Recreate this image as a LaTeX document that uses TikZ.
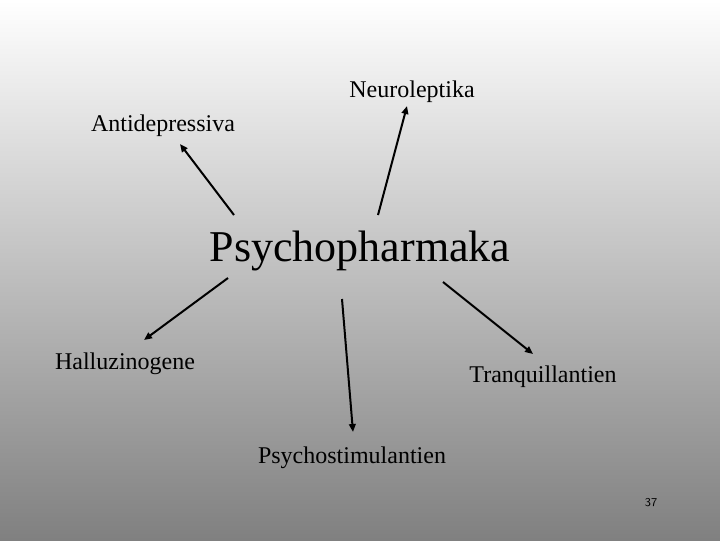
\documentclass[tikz,border=0pt]{standalone}
\usepackage{fontspec}
\setmainfont{Liberation Serif}
\usepackage{tikz}
\usetikzlibrary{arrows.meta}

\tikzset{
    lbl/.style={inner sep=0.75pt, font=\fontsize{18}{22}\selectfont},
    arr/.style={line width=1.5pt, -{Triangle[length=6pt,width=5pt]}}
}

\begin{document}
\begin{tikzpicture}[x=0.75pt,y=0.75pt,yscale=-1,xscale=1]

    % background
    \shade [top color=white, bottom color={rgb,255:red,128;green,128;blue,128}] (0,0) rectangle (720,540);
    \useasboundingbox (0,0) rectangle (720,540);

    % labels
    \node [inner sep=0.75pt, font=\fontsize{33}{38}\selectfont] (psy) at (360,251) {Psychopharmaka};
    \node [lbl] (neuro) at (412,92) {Neuroleptika};
    \node [lbl] (anti) at (163,126) {Antidepressiva};
    \node [lbl] (hallu) at (125,364) {Halluzinogene};
    \node [lbl] (tranq) at (543,377) {Tranquillantien};
    \node [lbl] (stim) at (352,458) {Psychostimulantien};
    \node [inner sep=0.75pt, font=\sffamily\fontsize{9}{11}\selectfont] (page) at (651,503) {37};

    % arrow ends
    \coordinate (a0) at (234,215);  \coordinate (a1) at (180,144);
    \coordinate (n0) at (378,215);  \coordinate (n1) at (407,106);
    \coordinate (h0) at (228,278);  \coordinate (h1) at (144,340);
    \coordinate (s0) at (342,299);  \coordinate (s1) at (353,432);
    \coordinate (t0) at (443,282);  \coordinate (t1) at (533,354);

    \draw [arr] (a0) -- (a1);
    \draw [arr] (n0) -- (n1);
    \draw [arr] (h0) -- (h1);
    \draw [arr] (s0) -- (s1);
    \draw [arr] (t0) -- (t1);

\end{tikzpicture}
\end{document}
